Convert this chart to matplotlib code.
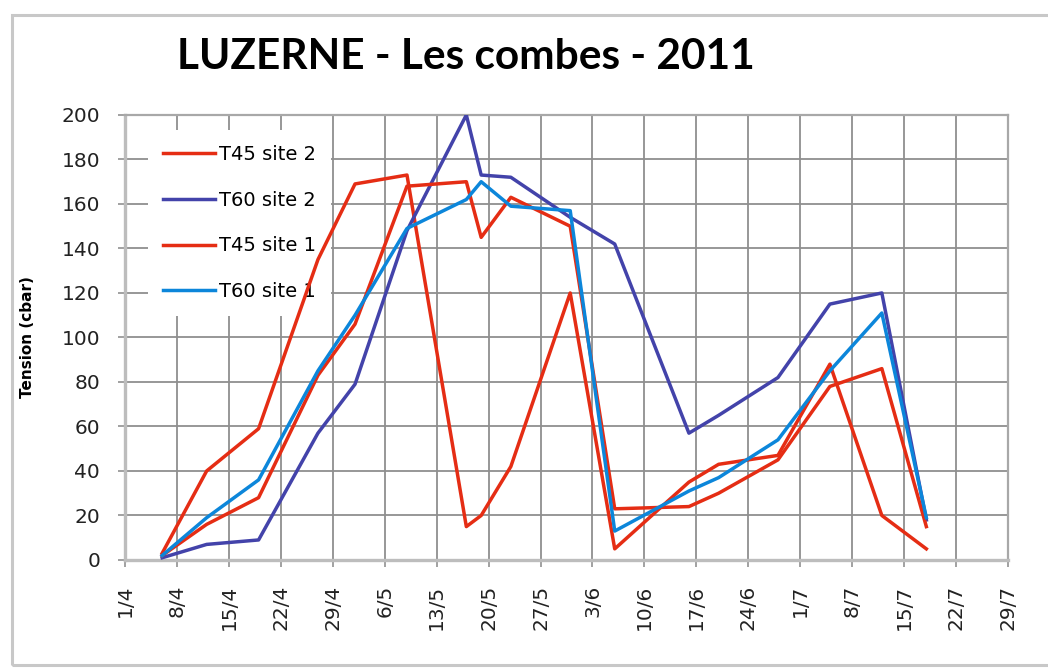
import matplotlib
matplotlib.use("Agg")
import matplotlib.pyplot as plt
from matplotlib.patches import Rectangle
import pandas as pd

# --- données (tension en cbar) ---
dates = pd.to_datetime([
    "2011-04-06", "2011-04-12", "2011-04-19", "2011-04-27", "2011-05-02",
    "2011-05-09", "2011-05-17", "2011-05-19", "2011-05-23", "2011-05-31",
    "2011-06-06", "2011-06-16", "2011-06-20", "2011-06-28", "2011-07-05",
    "2011-07-12", "2011-07-18",
])
t45_site2 = [3, 40, 59, 135, 169, 173, 15, 20, 42, 120, 5, 35, 43, 47, 88, 20, 5]
t60_site2 = [1, 7, 9, 57, 79, 148, 200, 173, 172, 154, 142, 57, 65, 82, 115, 120, 18]
t45_site1 = [2, 16, 28, 83, 106, 168, 170, 145, 163, 150, 23, 24, 30, 45, 78, 86, 15]
t60_site1 = [2, 19, 36, 85, 110, 149, 162, 170, 159, 157, 13, 31, 37, 54, 85, 111, 19]

tick_dates = pd.date_range("2011-04-01", "2011-07-29", freq="7D")
tick_labels = [f"{d.day}/{d.month}" for d in tick_dates]

red = "#E52D14"
dark_blue = "#4343AA"
light_blue = "#0C86DA"

fig = plt.figure(figsize=(10.48, 6.68), dpi=100)
ax = fig.add_axes([0.1193, 0.1617, 0.8425, 0.6662])

ax.plot(dates, t45_site2, color=red, lw=2.5, label="T45 site 2", zorder=3)
ax.plot(dates, t60_site2, color=dark_blue, lw=2.5, label="T60 site 2", zorder=3)
ax.plot(dates, t45_site1, color=red, lw=2.5, label="T45 site 1", zorder=3)
ax.plot(dates, t60_site1, color=light_blue, lw=2.5, label="T60 site 1", zorder=3)

ax.set_xlim(tick_dates[0], tick_dates[-1])
ax.set_ylim(0, 200)
ax.set_yticks(range(0, 201, 20))
ax.set_xticks(tick_dates)
ax.set_xticklabels(tick_labels, rotation=90)

ax.grid(True, color="#8f8f8f", lw=1.3)
ax.set_axisbelow(True)
for side in ["left", "bottom"]:
    ax.spines[side].set_color("#bdbdbd")
    ax.spines[side].set_linewidth(2.4)
for side in ["top", "right"]:
    ax.spines[side].set_color("#a8a8a8")
    ax.spines[side].set_linewidth(1.6)

ax.tick_params(axis="both", colors="#9a9a9a", length=5, width=1.3,
               labelcolor="#222222", labelsize=14.5, pad=13)

ax.set_ylabel("Tension (cbar)", fontsize=11, fontweight="bold")
ax.yaxis.set_label_coords(-0.102, 0.5)

# légende derrière les courbes, fond blanc sur la grille
leg = ax.legend(loc="upper left", bbox_to_anchor=(0.026, 0.966),
                fontsize=14, frameon=True, facecolor="white",
                edgecolor="none", framealpha=1, fancybox=False,
                handlelength=2.7, handletextpad=0.2, labelspacing=1.38,
                borderpad=0.75, borderaxespad=0)
leg.set_zorder(2)

fig.text(0.445, 0.915, "LUZERNE - Les combes - 2011", ha="center",
         va="center", fontsize=30.5, fontweight="bold", family="Lato")

# cadre gris autour du graphique
fig.patches.append(Rectangle((0.0115, 0.0045), 1.0, 0.973,
                             transform=fig.transFigure, fill=False,
                             edgecolor="#c8c8c8", lw=2.2))

fig.savefig("out.png", dpi=100)
